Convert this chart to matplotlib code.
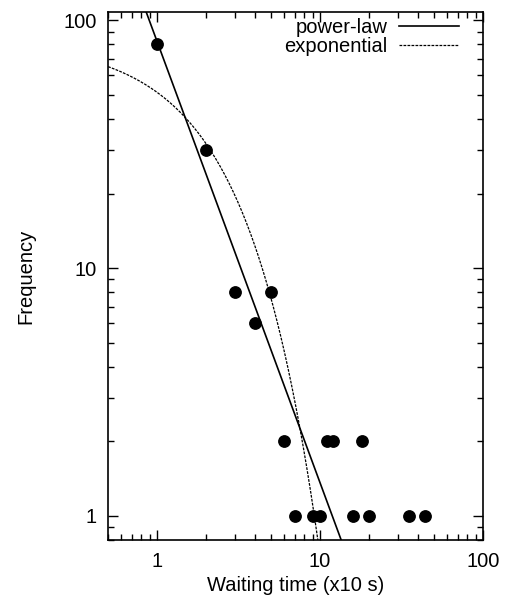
import numpy as np
import matplotlib
matplotlib.use("Agg")
import matplotlib.pyplot as plt
from matplotlib.ticker import LogLocator, FixedLocator, NullFormatter

plt.rcParams['font.family'] = ['Liberation Sans', 'DejaVu Sans']

# waiting time (x10 s) and frequency
wait = [1, 2, 3, 4, 5, 6, 7, 9, 10, 11, 12, 16, 18, 20, 35, 44]
freq = [80, 30, 8, 6, 8, 2, 1, 1, 1, 2, 2, 1, 2, 1, 1, 1]

# fitted curves
pl_amp, pl_idx = 82.0, 1.78
ex_amp, ex_tau = 82.6, 2.09

fs = 14.5

fig = plt.figure(figsize=(5.1, 6.02), dpi=100)
ax = fig.add_axes([0.212, 0.103, 0.735, 0.877])

xx = np.logspace(np.log10(0.5), 2, 600)
ax.plot(xx, pl_amp * xx ** (-pl_idx), color='black', lw=1.2, label='power-law')
ax.plot(xx, ex_amp * np.exp(-xx / ex_tau), color='black', lw=0.9,
        dashes=(2.2, 1.0), label='exponential')
ax.plot(wait, freq, 'o', color='black', ms=8.2, zorder=3)

ax.set_xscale('log')
ax.set_yscale('log')
ax.set_xlim(0.5, 100)
ax.set_ylim(0.8, 108)

ax.xaxis.set_major_locator(FixedLocator([1, 10, 100]))
ax.yaxis.set_major_locator(FixedLocator([1, 10, 100]))
ax.set_xticklabels(['1', '10', '100'])
ax.set_yticklabels(['1', '10', '100'])
ax.xaxis.set_minor_locator(LogLocator(base=10, subs=np.arange(2, 10)))
ax.yaxis.set_minor_locator(LogLocator(base=10, subs=np.arange(2, 10)))
ax.xaxis.set_minor_formatter(NullFormatter())
ax.yaxis.set_minor_formatter(NullFormatter())
ax.tick_params(which='both', direction='in', top=True, right=True, labelsize=fs)
ax.tick_params(which='major', length=7, width=1)
ax.tick_params(which='minor', length=4, width=1)
ax.tick_params(axis='x', pad=9)
ax.tick_params(axis='y', pad=8)
for s in ax.spines.values():
    s.set_linewidth(1.2)

ax.set_xlabel('Waiting time (x10 s)', fontsize=fs, labelpad=3)
ax.set_ylabel('Frequency', fontsize=fs, labelpad=20)

ax.legend(loc='upper right', bbox_to_anchor=(0.952, 1.0), frameon=False,
          markerfirst=False, fontsize=fs, handlelength=3.0, handletextpad=0.55,
          labelspacing=0.0, borderaxespad=0.0, borderpad=0.3)

fig.savefig('out.png', dpi=100)
